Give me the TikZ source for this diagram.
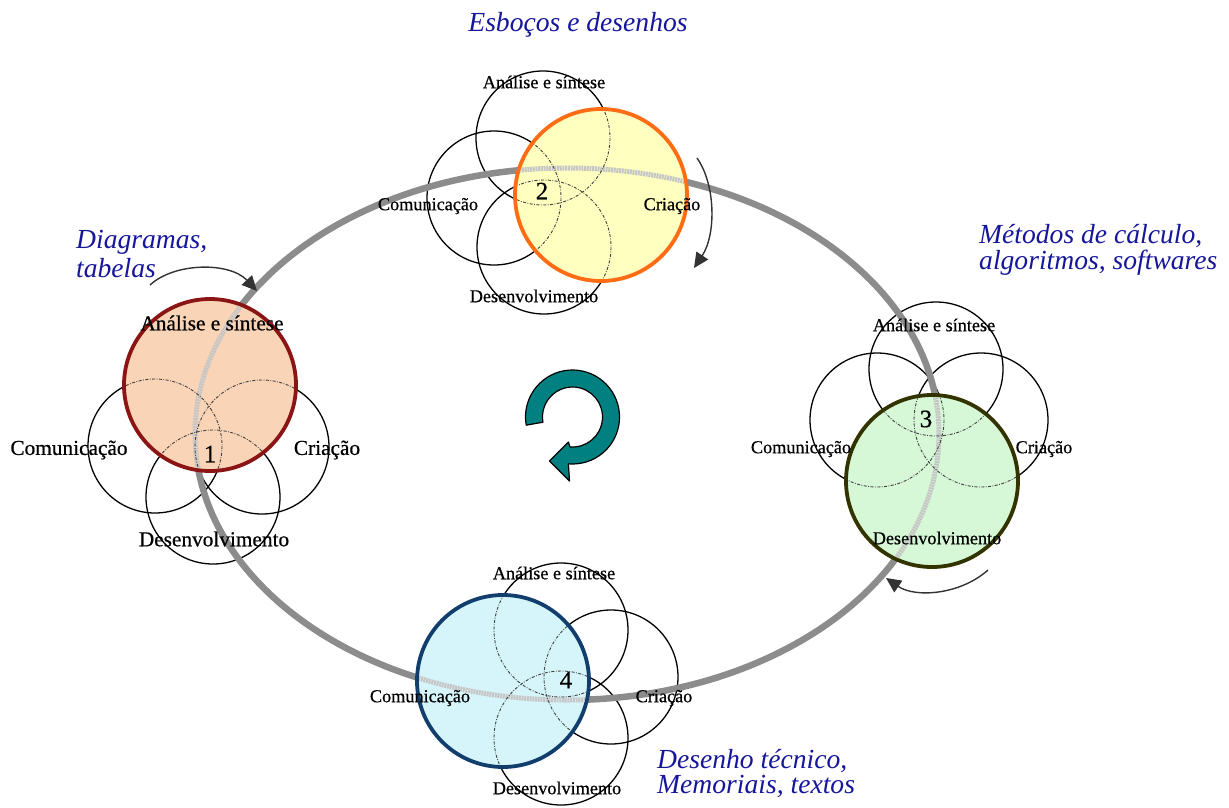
\documentclass[tikz,border=0pt]{standalone}
\usepackage{fontspec}
\setmainfont{Liberation Serif}
\newfontfamily\lblfont[FakeBold=0.6]{Liberation Serif}
\usetikzlibrary{arrows.meta}
\definecolor{lblblue}{RGB}{22,22,155}
\definecolor{ringgray}{RGB}{140,140,140}
\definecolor{teal1}{RGB}{0,128,128}
\definecolor{fillA}{RGB}{250,212,182}
\definecolor{edgeA}{RGB}{139,20,20}
\definecolor{fillB}{RGB}{255,255,192}
\definecolor{edgeB}{RGB}{255,108,20}
\definecolor{fillC}{RGB}{214,248,214}
\definecolor{edgeC}{RGB}{51,51,0}
\definecolor{fillD}{RGB}{214,245,250}
\definecolor{edgeD}{RGB}{18,62,110}
\begin{document}
\begin{tikzpicture}[x=1pt,y=-1pt,
  sub/.style={circle, draw=black, line width=1.3pt, minimum size=134pt, inner sep=0pt},
  hub/.style={circle, line width=3.8pt, minimum size=172pt, inner sep=0pt},
  seen/.style={draw=black!75, line width=0.9pt, dash pattern=on 3pt off 1.5pt on 0.8pt off 1.5pt},
  band/.style={draw=ringgray, line width=6.5pt},
  bandin/.style={draw=gray!45, line width=5pt, dash pattern=on 2pt off 0.7pt},
  labS/.style={font=\lblfont\fontsize{18.2}{20}\selectfont, inner sep=0pt},
  labL/.style={font=\lblfont\fontsize{21.3}{23}\selectfont, inner sep=0pt},
  num/.style={font=\lblfont\fontsize{25}{27}\selectfont, inner sep=0pt},
  note/.style={font=\fontsize{27.6}{29}\selectfont\itshape, text=lblblue, inner sep=0pt, anchor=base west},
  turn/.style={draw=black!80, line width=1.4pt, -{Triangle[length=15pt,width=14pt]}}
]
\useasboundingbox (0,0) rectangle (1229,807);

% plain circles
\node[sub] (c1l) at (155,446) {};
\node[sub] (c1r) at (262,447) {};
\node[sub] (c1b) at (213,497) {};
\node[sub] (c2t) at (543,138) {};
\node[sub] (c2l) at (494,198) {};
\node[sub] (c2b) at (544,247) {};
\node[sub] (c3t) at (936,369) {};
\node[sub] (c3l) at (877,420) {};
\node[sub] (c3r) at (981,420) {};
\node[sub] (c4t) at (561,630) {};
\node[sub] (c4r) at (611,677) {};
\node[sub] (c4b) at (561,738) {};

% big cycle
\draw[band] (567,434) ellipse[x radius=372, y radius=266];

% highlighted circles
\node[hub, fill=fillA, draw=edgeA] (c1h) at (210,385) {};
\node[hub, fill=fillB, draw=edgeB] (c2h) at (601,195) {};
\node[hub, fill=fillC, draw=edgeC] (c3h) at (932,481) {};
\node[hub, fill=fillD, draw=edgeD] (c4h) at (503,681) {};

\begin{scope}
 \clip (c1h.center) circle[radius=84];
 \draw[bandin] (567,434) ellipse[x radius=372, y radius=266];
 \draw[seen] (c1l.center) circle[radius=67];
 \draw[seen] (c1r.center) circle[radius=67];
 \draw[seen] (c1b.center) circle[radius=67];
\end{scope}
\begin{scope}
 \clip (c2h.center) circle[radius=84];
 \draw[bandin] (567,434) ellipse[x radius=372, y radius=266];
 \draw[seen] (c2t.center) circle[radius=67];
 \draw[seen] (c2l.center) circle[radius=67];
 \draw[seen] (c2b.center) circle[radius=67];
\end{scope}
\begin{scope}
 \clip (c3h.center) circle[radius=84];
 \draw[bandin] (567,434) ellipse[x radius=372, y radius=266];
 \draw[seen] (c3t.center) circle[radius=67];
 \draw[seen] (c3l.center) circle[radius=67];
 \draw[seen] (c3r.center) circle[radius=67];
\end{scope}
\begin{scope}
 \clip (c4h.center) circle[radius=84];
 \draw[bandin] (567,434) ellipse[x radius=372, y radius=266];
 \draw[seen] (c4t.center) circle[radius=67];
 \draw[seen] (c4r.center) circle[radius=67];
 \draw[seen] (c4b.center) circle[radius=67];
\end{scope}

% cluster labels
\node[labL] (t1a) at (212,323) {Análise e síntese};
\node[labL] (t1c) at (69,450) {Comunicação};
\node[labL] (t1r) at (327,450) {Criação};
\node[labL] (t1d) at (214,539) {Desenvolvimento};
\node[num]  (n1)  at (210,454) {1};

\node[labS] (t2a) at (544,82) {Análise e síntese};
\node[labS] (t2c) at (428,206) {Comunicação};
\node[labS] (t2r) at (672,206) {Criação};
\node[labS] (t2d) at (534,296) {Desenvolvimento};
\node[num]  (n2)  at (542,191) {2};

\node[labS] (t3a) at (934,325) {Análise e síntese};
\node[labS] (t3c) at (801,449) {Comunicação};
\node[labS] (t3r) at (1044,449) {Criação};
\node[labS] (t3d) at (937,538) {Desenvolvimento};
\node[num]  (n3)  at (926,419) {3};

\node[labS] (t4a) at (554,573) {Análise e síntese};
\node[labS] (t4c) at (420,698) {Comunicação};
\node[labS] (t4r) at (664,698) {Criação};
\node[labS] (t4d) at (557,788) {Desenvolvimento};
\node[num]  (n4)  at (566,680) {4};

% blue notes
\node[note, anchor=base] (e1) at (578,31) {Esboços e desenhos};
\node[note] (d1) at (76,248) {Diagramas,};
\node[note] (d2) at (76,277) {tabelas};
\node[note] (m1) at (979,243) {Métodos de cálculo,};
\node[note] (m2) at (979,269) {algoritmos, softwares};
\node[note] (w1) at (657,768) {Desenho técnico,};
\node[note] (w2) at (657,793) {Memoriais, textos};

% curved arrows
\coordinate (a1s) at (150,285); \coordinate (a1e) at (257,291);
\coordinate (a2s) at (697,158); \coordinate (a2e) at (694,268);
\coordinate (a3s) at (988,570); \coordinate (a3e) at (886,578);
\draw[turn] (a1s) .. controls (175,262) and (230,262) .. (a1e);
\draw[turn] (a2s) .. controls (716,185) and (716,235) .. (a2e);
\draw[turn] (a3s) .. controls (960,595) and (915,598) .. (a3e);

% central rotation symbol
\begin{scope}[shift={(572.5,417)}, y=1pt]
 \filldraw[fill=teal1, draw=black, line width=1.2pt, line join=round]
   (190:47) arc[start angle=190, end angle=-95, radius=47]
   -- (-3,-64) -- (-23,-44) -- (-4,-25) -- (-95:30)
   arc[start angle=-95, end angle=190, radius=30] -- cycle;
\end{scope}
\end{tikzpicture}
\end{document}
